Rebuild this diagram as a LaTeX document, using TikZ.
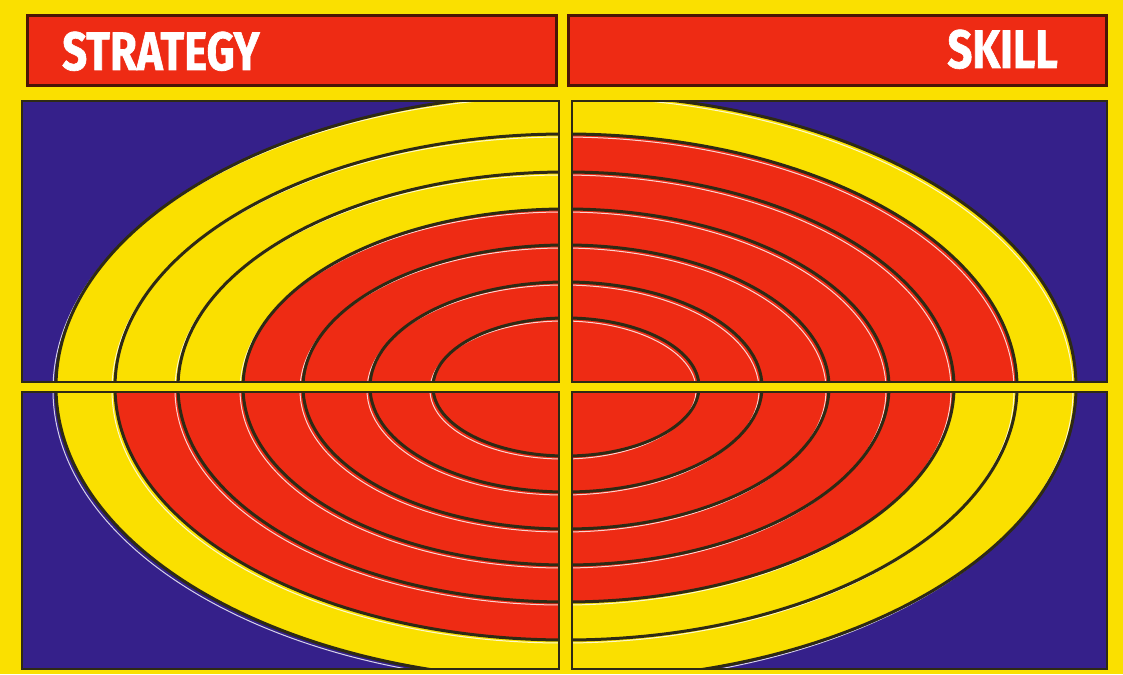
\documentclass[tikz,border=0pt]{standalone}
\usepackage{fontspec}
\usepackage{graphicx}
\usetikzlibrary{positioning}
\newfontfamily\headfont[BoldFeatures={FakeBold=1.3}]{Fira Sans}
\definecolor{padyellow}{HTML}{FAE000}
\definecolor{padred}{HTML}{EE2B14}
\definecolor{padblue}{HTML}{35208A}
\definecolor{padink}{HTML}{2E2A14}
\definecolor{padrim}{HTML}{4A1506}

\begin{document}
\begin{tikzpicture}[
    x=1pt,y=-1pt,
    headbar/.style={fill=padred,draw=padrim,line width=2.8pt,inner sep=0pt,anchor=north west},
    headtext/.style={text=white,inner sep=0pt,font=\headfont\bfseries\fontsize{54}{54}\selectfont},
    ringline/.style={draw=padink,line width=3pt},
    ringglint/.style={draw=white,opacity=0.8,line width=1pt},
    quadrim/.style={draw=padink,line width=2.4pt}
]
    % Background
    \fill[padyellow] (0,0) rectangle (1123,674);

    % Header bars
    \node[headbar,minimum width=529pt,minimum height=70pt] (stratbar) at (26,14) {};
    \node[headbar,minimum width=538pt,minimum height=70pt] (skillbar) at (567,14) {};
    \node[headtext,anchor=base west] (strat) at (62,70) {\scalebox{0.81}[1]{STRATEGY}};
    \node[headtext,anchor=base east] (skill) at (1058,68) {\scalebox{0.81}[1]{SKILL}};

    % Quadrants: x1/y1/x2/y2/red rings
    \foreach \xa/\ya/\xb/\yb/\score in {22/101/559/382/4, 572/101/1107/382/6,
                                       22/392/559/669/6, 572/392/1107/669/5} {
        \begin{scope}
            \clip (\xa,\ya) rectangle (\xb,\yb);
            \fill[padblue] (\xa,\ya) rectangle (\xb,\yb);
            \foreach \k/\ra/\rb in {0/510/293, 1/451/253, 2/388/215, 3/323/178,
                                   4/263/142, 5/196/105, 6/133/69} {
                \ifnum\k>\numexpr6-\score\relax \def\ringcol{padred}\else\def\ringcol{padyellow}\fi
                \fill[\ringcol] (566,387) ellipse [x radius=\ra, y radius=\rb];
            }
            \foreach \ra/\rb in {510/293, 451/253, 388/215, 323/178, 263/142, 196/105, 133/69} {
                \draw[ringglint] (563,390) ellipse [x radius=\ra, y radius=\rb];
                \draw[ringline] (566,387) ellipse [x radius=\ra, y radius=\rb];
            }
        \end{scope}
        \draw[quadrim] (\xa,\ya) rectangle (\xb,\yb);
    }
\end{tikzpicture}
\end{document}
